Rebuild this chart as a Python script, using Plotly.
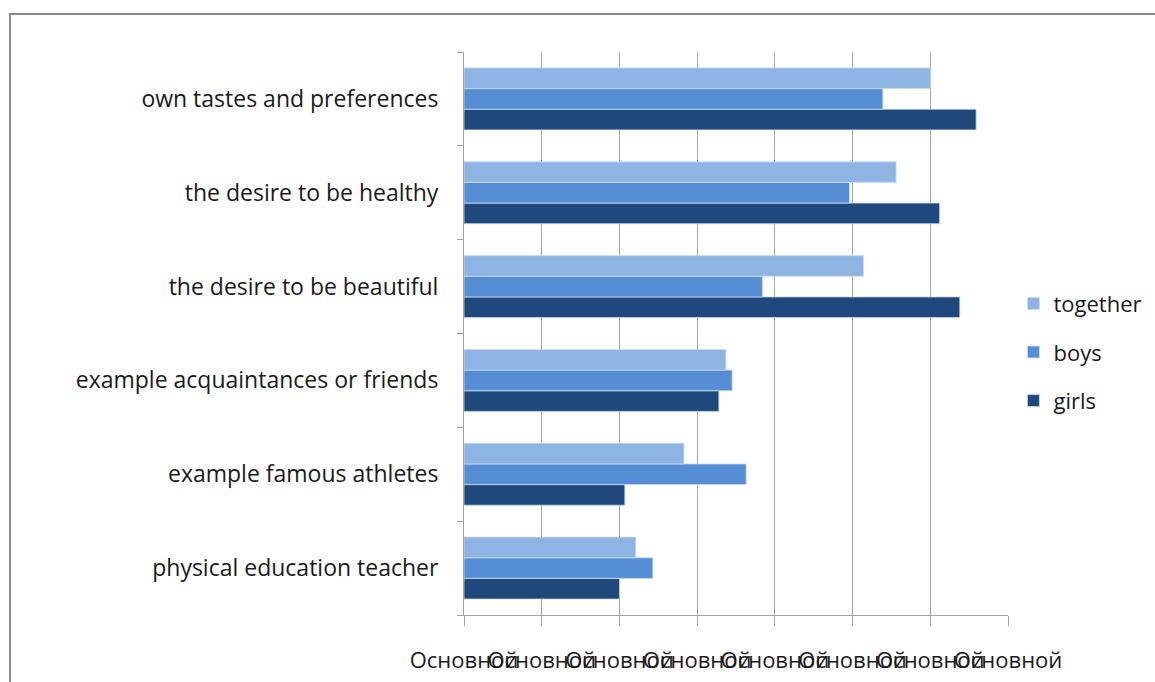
import plotly.graph_objects as go

# Motives, listed bottom to top as they appear on the axis
categories = [
    "physical education teacher",
    "example famous athletes",
    "example acquaintances or friends",
    "the desire to be beautiful",
    "the desire to be healthy",
    "own tastes and preferences",
]

together = [22.1, 28.3, 33.7, 51.4, 55.6, 60.0]
boys = [24.3, 36.3, 34.5, 38.4, 49.6, 53.9]
girls = [20.0, 20.7, 32.8, 63.8, 61.2, 65.9]

x_ticks = [0, 10, 20, 30, 40, 50, 60, 70]
x_tick_labels = ["Основной"] * len(x_ticks)

FONT = "'Open Sans', Lato, sans-serif"
GRID = "#a3a3a3"
TEXT = "#1a1a1a"

fig = go.Figure()

# girls first so it sits at the bottom of each group; legend lists together on top
series = [
    ("girls", girls, "#1F497D", 3),
    ("boys", boys, "#558ED5", 2),
    ("together", together, "#8EB4E3", 1),
]
for name, vals, color, rank in series:
    fig.add_trace(
        go.Bar(
            y=categories,
            x=vals,
            name=name,
            orientation="h",
            legendgroup=name,
            legendrank=rank,
            marker=dict(color=color, line=dict(color="#c9daf0", width=0.8)),
        )
    )

fig.update_layout(
    width=1155,
    height=682,
    margin=dict(l=464, r=147, t=52, b=67, autoexpand=False),
    paper_bgcolor="white",
    plot_bgcolor="white",
    barmode="group",
    bargap=0.34,
    bargroupgap=0,
    font=dict(family=FONT, size=22, color=TEXT),
    showlegend=True,
    legend=dict(
        x=1.01,
        xanchor="left",
        y=0.467,
        yanchor="middle",
        traceorder="grouped",
        tracegroupgap=17,
        font=dict(family=FONT, size=22, color=TEXT),
        bgcolor="rgba(0,0,0,0)",
    ),
    xaxis=dict(
        range=[0, 70],
        tickmode="array",
        tickvals=x_ticks,
        ticktext=x_tick_labels,
        tickangle=0,
        automargin=False,
        showgrid=True,
        gridcolor=GRID,
        gridwidth=1,
        zeroline=False,
        showline=True,
        linecolor=GRID,
        linewidth=1,
        ticks="outside",
        ticklen=10,
        tickcolor=GRID,
        ticklabelstandoff=16,
        tickfont=dict(family=FONT, size=22, color=TEXT),
    ),
    yaxis=dict(
        type="category",
        categoryorder="array",
        categoryarray=categories,
        automargin=False,
        showgrid=False,
        showline=True,
        linecolor=GRID,
        linewidth=1,
        ticks="outside",
        tickson="boundaries",
        ticklen=6,
        tickcolor=GRID,
        ticklabelstandoff=20,
        tickfont=dict(family=FONT, size=23, color=TEXT),
    ),
    shapes=[
        dict(
            type="rect",
            xref="paper",
            yref="paper",
            x0=-0.8346,
            x1=1.36,
            y0=-0.16,
            y1=1.0675,
            line=dict(color="#888888", width=2),
            fillcolor="rgba(0,0,0,0)",
            layer="below",
        )
    ],
)

fig.write_html("out.html")
